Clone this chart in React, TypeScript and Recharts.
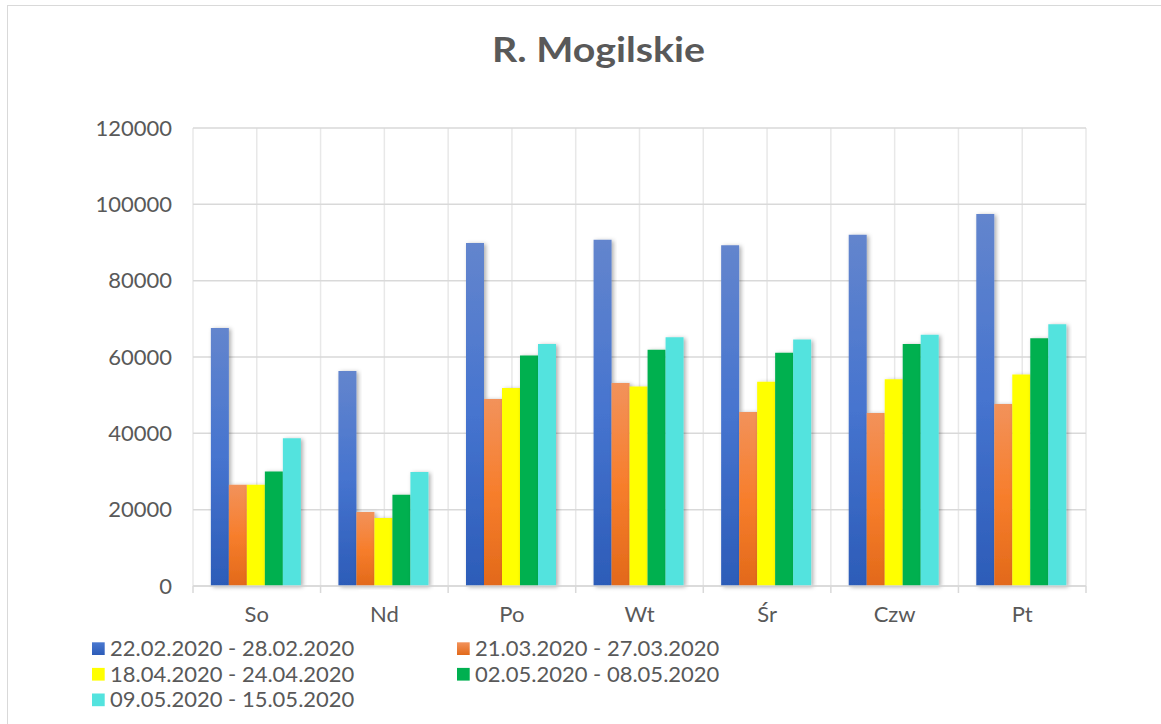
import React from 'react';
import { BarChart, Bar, XAxis, YAxis, CartesianGrid } from 'recharts';

const title = 'R. Mogilskie';
const categories = ['So', 'Nd', 'Po', 'Wt', 'Śr', 'Czw', 'Pt'];
const seriesNames = [
  '22.02.2020 - 28.02.2020',
  '21.03.2020 - 27.03.2020',
  '18.04.2020 - 24.04.2020',
  '02.05.2020 - 08.05.2020',
  '09.05.2020 - 15.05.2020',
];
const week1 = [67600, 56300, 89900, 90700, 89300, 92000, 97500];
const week2 = [26500, 19400, 49000, 53200, 45600, 45300, 47700];
const week3 = [26500, 17800, 51900, 52300, 53500, 54200, 55400];
const week4 = [30000, 23900, 60400, 61900, 61100, 63400, 64900];
const week5 = [38700, 29900, 63400, 65200, 64600, 65800, 68600];
const yTicks = [0, 20000, 40000, 60000, 80000, 100000, 120000];

const seriesValues = [week1, week2, week3, week4, week5];
const seriesFills = ['url(#gBlue)', 'url(#gOrange)', '#FFFF00', '#00B050', '#53E3DE'];
const legendSwatch = ['url(#lBlue)', 'url(#lOrange)', '#FFFF00', '#00B050', '#53E3DE'];

const data = categories.map((c, i) => {
  const row: Record<string, string | number> = { cat: c };
  seriesValues.forEach((vals, k) => {
    row['s' + k] = vals[i];
  });
  return row;
});

const TEXT = '#595959';
const FONT = 'Lato, sans-serif';

const XTick = (props: any) => {
  const { x, y, payload, index } = props;
  const half = payload && payload.offset ? payload.offset : (props.width || 0) / categories.length / 2;
  return (
    <g>
      <line x1={x - half} x2={x - half} y1={y} y2={y + 7} stroke="#d9d9d9" strokeWidth={1.5} />
      {index === categories.length - 1 && (
        <line x1={x + half} x2={x + half} y1={y} y2={y + 7} stroke="#d9d9d9" strokeWidth={1.5} />
      )}
      <text x={x} y={y + 36} textAnchor="middle" fill={TEXT} fontSize={22} fontFamily={FONT}>
        {payload.value}
      </text>
    </g>
  );
};

const vGen = (p: any) => {
  const off = p.offset || {};
  const n = categories.length * 2;
  const out: number[] = [];
  for (let i = 0; i <= n; i++) out.push(off.left + (i * off.width) / n);
  return out;
};

export default function App() {
  return (
    <div style={{ position: 'fixed', left: 0, top: 0, width: 1161, height: 724, background: '#fff', overflow: 'hidden' }}>
      <div
        style={{
          position: 'absolute',
          left: 7,
          top: 5,
          width: 1180,
          height: 740,
          border: '1.5px solid #d9d9d9',
          boxSizing: 'border-box',
        }}
      />
      <div style={{ position: 'absolute', left: 0, top: 0 }}>
        <BarChart
          width={1161}
          height={724}
          data={data}
          margin={{ top: 128, right: 75, bottom: 98, left: 0 }}
          barCategoryGap="14%"
          barGap={0}
        >
          <defs>
            <linearGradient id="gBlue" x1="0" y1="0" x2="0" y2="1">
              <stop offset="0%" stopColor="#6385CD" />
              <stop offset="50%" stopColor="#4674CF" />
              <stop offset="100%" stopColor="#2C5CB8" />
            </linearGradient>
            <linearGradient id="gOrange" x1="0" y1="0" x2="0" y2="1">
              <stop offset="0%" stopColor="#F2925B" />
              <stop offset="50%" stopColor="#F77E2C" />
              <stop offset="100%" stopColor="#E2691A" />
            </linearGradient>
            <filter id="shadow" x="-30%" y="-5%" width="160%" height="110%">
              <feDropShadow dx="2" dy="1" stdDeviation="2.2" floodColor="#000" floodOpacity="0.32" />
            </filter>
          </defs>
          <CartesianGrid horizontal={false} vertical verticalCoordinatesGenerator={vGen} stroke="#e8e8e8" strokeWidth={1.5} />
          <CartesianGrid vertical={false} horizontal stroke="#d9d9d9" strokeWidth={1.5} />
          <XAxis
            dataKey="cat"
            height={40}
            tickSize={0}
            tickMargin={0}
            interval={0}
            axisLine={{ stroke: '#d9d9d9', strokeWidth: 1.5 }}
            tickLine={false}
            tick={<XTick />}
          />
          <YAxis
            width={193}
            domain={[0, 120000]}
            ticks={yTicks}
            interval={0}
            tickSize={0}
            tickMargin={21}
            axisLine={false}
            tickLine={false}
            tick={{ fill: TEXT, fontSize: 22, fontFamily: FONT }}
          />
          {seriesNames.map((name, k) => (
            <Bar
              key={name}
              dataKey={'s' + k}
              name={name}
              fill={seriesFills[k]}
              filter="url(#shadow)"
              isAnimationActive={false}
            />
          ))}
        </BarChart>
      </div>
      <svg width={1161} height={724} style={{ position: 'absolute', left: 0, top: 0, pointerEvents: 'none' }}>
        <defs>
          <linearGradient id="lBlue" x1="0" y1="0" x2="0" y2="1">
            <stop offset="0%" stopColor="#4A78D0" />
            <stop offset="100%" stopColor="#2C5CB8" />
          </linearGradient>
          <linearGradient id="lOrange" x1="0" y1="0" x2="0" y2="1">
            <stop offset="0%" stopColor="#F2925B" />
            <stop offset="100%" stopColor="#E2691A" />
          </linearGradient>
        </defs>
        <text
          x={598.5}
          y={62}
          textAnchor="middle"
          fontSize={34}
          fontWeight="bold"
          fontFamily={FONT}
          fill={TEXT}
          textLength={213}
          lengthAdjust="spacingAndGlyphs"
        >
          {title}
        </text>
        {seriesNames.map((name, k) => {
          const col = k % 2;
          const row = Math.floor(k / 2);
          const sx = col === 0 ? 92 : 457;
          const by = 656 + row * 25.6;
          return (
            <g key={name}>
              <rect x={sx} y={by - 13.7} width={12.7} height={12.7} fill={legendSwatch[k]} />
              <text x={sx + 18} y={by} fontSize={22} fontFamily={FONT} fill={TEXT}>
                {name}
              </text>
            </g>
          );
        })}
      </svg>
    </div>
  );
}
